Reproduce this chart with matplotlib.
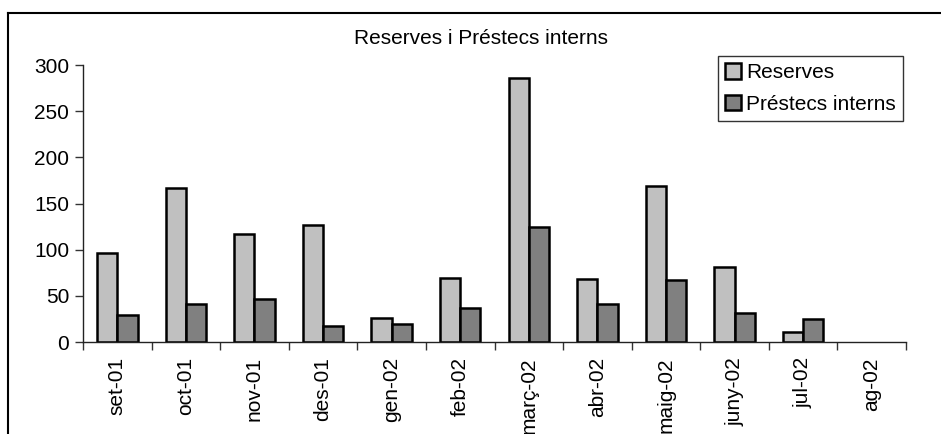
import matplotlib.pyplot as plt
import matplotlib.lines as mlines
import numpy as np

plt.rcParams["font.family"] = ["Liberation Sans", "DejaVu Sans"]

months = ["set-01", "oct-01", "nov-01", "des-01", "gen-02", "feb-02",
          "març-02", "abr-02", "maig-02", "juny-02", "jul-02", "ag-02"]
reserves = [96, 167, 117, 127, 26, 69, 286, 68, 169, 81, 11, 0]
prestecs = [29, 41, 47, 17, 19, 37, 125, 41, 67, 31, 25, 0]

fig = plt.figure(figsize=(9.41, 4.34), dpi=100)
ax = fig.add_axes([83 / 941, 1 - 342 / 434, (906 - 83) / 941, (342 - 65) / 434])

x = np.arange(len(months))
w = 0.295
r_bars = ax.bar(x - w / 2, reserves, w, color="#c0c0c0", edgecolor="black", linewidth=1.8, label="Reserves")
p_bars = ax.bar(x + w / 2, prestecs, w, color="#808080", edgecolor="black", linewidth=1.8, label="Préstecs interns")
# empty months draw nothing
for bars, vals in [(r_bars, reserves), (p_bars, prestecs)]:
    for b, v in zip(bars, vals):
        if v == 0:
            b.set_visible(False)

ax.set_xlim(-0.5, len(months) - 0.5)
ax.set_ylim(0, 300)
ax.set_yticks(range(0, 301, 50))
ax.set_xticks(x)
ax.set_xticklabels(months, rotation=90, fontsize=15)
ax.set_xticks(np.arange(-0.5, len(months), 1), minor=True)
ax.tick_params(axis="x", which="major", length=0, pad=11)
ax.tick_params(axis="x", which="minor", length=6, width=1, color="#333333")
ax.tick_params(axis="y", length=6, width=1, color="#333333", labelsize=15, pad=4)

for s in ["top", "right"]:
    ax.spines[s].set_visible(False)
for s in ["left", "bottom"]:
    ax.spines[s].set_color("#222222")
    ax.spines[s].set_linewidth(1)

fig.text(481 / 941, 1 - 39 / 434, "Reserves i Préstecs interns", ha="center", va="center", fontsize=15)

leg = fig.legend(loc="upper right", bbox_to_anchor=(903 / 941, 1 - 56 / 434), fontsize=15,
                 frameon=True, fancybox=False, handlelength=0.75, handleheight=0.75,
                 handletextpad=0.25, labelspacing=0.6, borderpad=0.35, borderaxespad=0)
leg.get_frame().set_edgecolor("black")
leg.get_frame().set_linewidth(1)

# outer chart frame (top and left edge visible)
fig.add_artist(mlines.Line2D([8 / 941, 8 / 941], [0, 1 - 13 / 434], color="black", linewidth=1.5))
fig.add_artist(mlines.Line2D([8 / 941, 1], [1 - 13 / 434, 1 - 13 / 434], color="black", linewidth=1.5))

fig.savefig("out.png", dpi=100)
